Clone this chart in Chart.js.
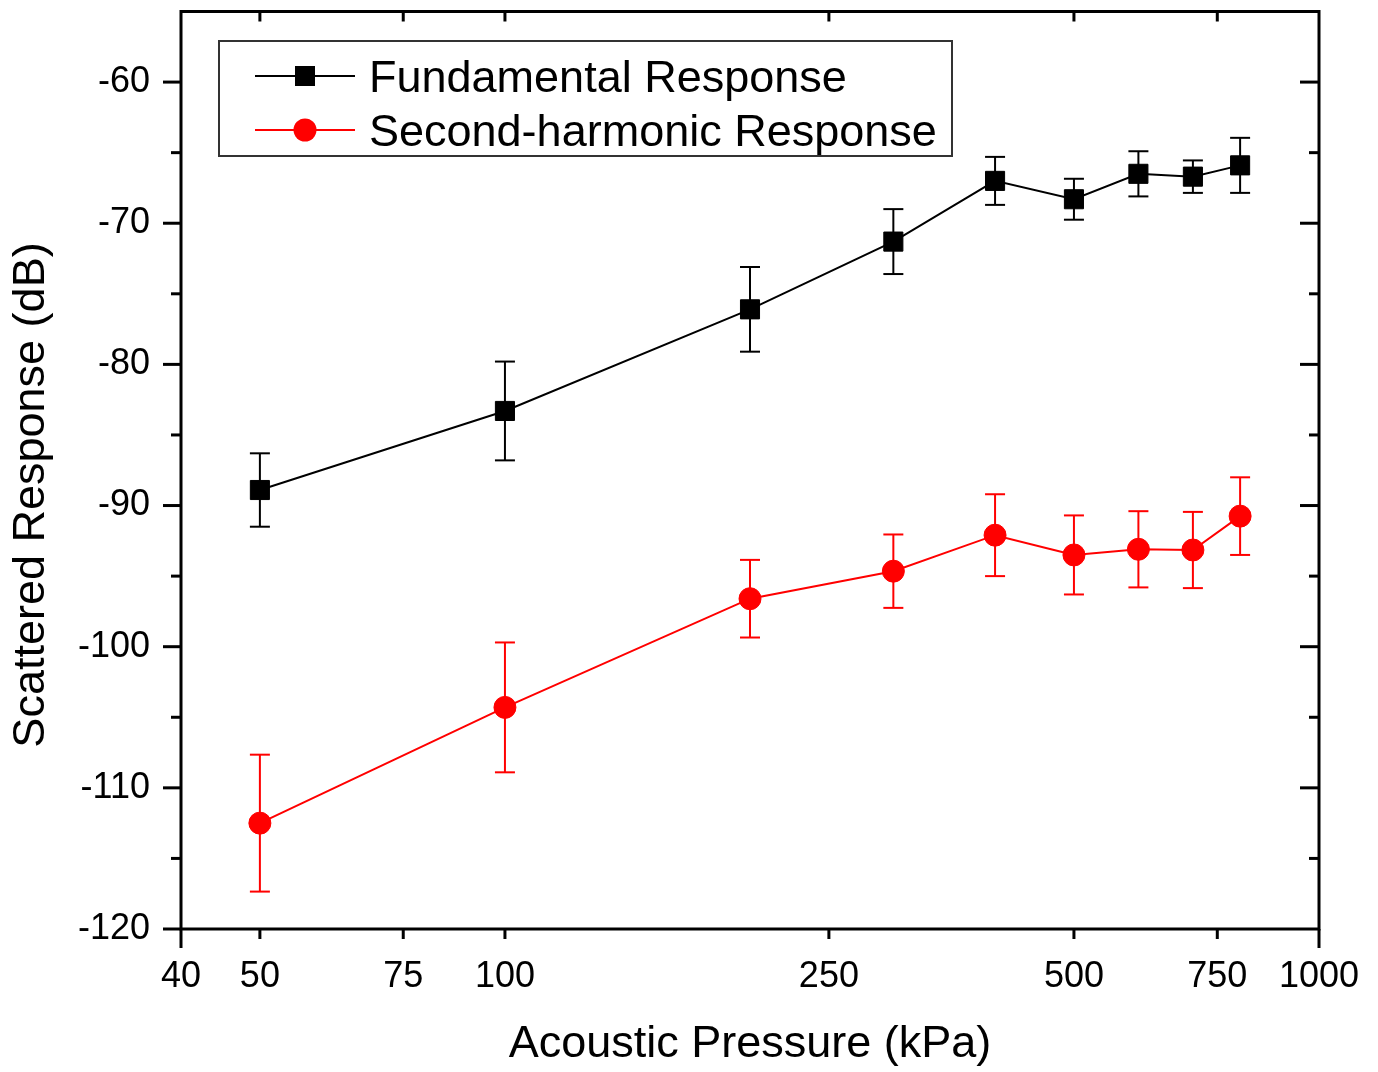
<!DOCTYPE html>
<html>
<head>
<meta charset="utf-8">
<script src="https://cdn.jsdelivr.net/npm/chart.js@4/dist/chart.umd.min.js"></script>
<style>
  html, body { margin: 0; padding: 0; background: #fff; overflow: hidden; }
  /* Chart.js не даёт поднять верх области выше ~14.5px, поэтому сдвигаем холст на 3px вверх */
  #wrap { width: 1378px; height: 1075px; position: relative; top: -3px; }
</style>
</head>
<body>
<div id="wrap"><canvas id="myChart"></canvas></div>
<script>
// данные
const pressure = [50, 100, 200, 300, 400, 500, 600, 700, 800];
const fundamental = [-88.9, -83.3, -76.1, -71.3, -67.0, -68.3, -66.5, -66.7, -65.9];
const fundamentalErr = [2.6, 3.5, 3.0, 2.3, 1.7, 1.45, 1.6, 1.15, 1.95];
const secondHarm = [-112.5, -104.3, -96.6, -94.65, -92.1, -93.5, -93.1, -93.15, -90.75];
const secondHarmErr = [4.85, 4.6, 2.75, 2.6, 2.9, 2.8, 2.7, 2.7, 2.75];

const xTicks = [40, 50, 75, 100, 250, 500, 750, 1000];
const xMajor = [40, 1000];
const yTicks = [-120, -110, -100, -90, -80, -70, -60];
const yMinor = [-115, -105, -95, -85, -75, -65];

const FONT = '"Liberation Sans", Arial, sans-serif';

const seriesInfo = [
    { label: 'Fundamental Response', values: fundamental, err: fundamentalErr, color: '#000000', style: 'rect' },
    { label: 'Second-harmonic Response', values: secondHarm, err: secondHarmErr, color: '#ff0000', style: 'circle' }
];

// линия отметки
function seg(ctx, x1, y1, x2, y2) {
    ctx.beginPath();
    ctx.moveTo(x1, y1);
    ctx.lineTo(x2, y2);
    ctx.stroke();
}

// убираем лишние отступы под подписи, чтобы область графика была на месте
function noPad(scale) {
    scale.paddingTop = 0;
    scale.paddingBottom = 0;
    scale.paddingLeft = 0;
    scale.paddingRight = 0;
}

const decor = {
    id: 'decor',
    // усы погрешностей рисуем под маркерами
    beforeDatasetsDraw(chart) {
        const ctx = chart.ctx;
        const xs = chart.scales.x, ys = chart.scales.y;
        ctx.save();
        ctx.lineWidth = 2;
        seriesInfo.forEach(s => {
            ctx.strokeStyle = s.color;
            for (let i = 0; i < pressure.length; i++) {
                const px = xs.getPixelForValue(pressure[i]);
                const top = ys.getPixelForValue(s.values[i] + s.err[i]);
                const bot = ys.getPixelForValue(s.values[i] - s.err[i]);
                seg(ctx, px, top, px, bot);
                seg(ctx, px - 10, top, px + 10, top);
                seg(ctx, px - 10, bot, px + 10, bot);
            }
        });
        ctx.restore();
    },
    afterDraw(chart) {
        const ctx = chart.ctx;
        const a = chart.chartArea;
        const xs = chart.scales.x, ys = chart.scales.y;
        ctx.save();
        ctx.strokeStyle = '#000';
        ctx.lineWidth = 3;
        ctx.lineCap = 'butt';
        // рамка
        ctx.strokeRect(a.left, a.top, a.right - a.left, a.bottom - a.top);

        // отметки по X: снаружи снизу, внутри сверху
        xTicks.forEach(v => {
            const px = xs.getPixelForValue(v);
            const len = xMajor.includes(v) ? 19 : 10;
            seg(ctx, px, a.bottom, px, a.bottom + len);
            if (!xMajor.includes(v)) seg(ctx, px, a.top, px, a.top + 10);
        });
        // отметки по Y: снаружи слева, внутри справа
        yTicks.forEach(v => {
            const py = ys.getPixelForValue(v);
            seg(ctx, a.left - 18, py, a.left, py);
            if (v !== -120) seg(ctx, a.right - 19, py, a.right, py);
        });
        yMinor.forEach(v => {
            const py = ys.getPixelForValue(v);
            seg(ctx, a.left - 10, py, a.left, py);
            seg(ctx, a.right - 10, py, a.right, py);
        });

        // легенда
        const lx = a.left + 38, ly = Math.round(a.top + 29);
        ctx.lineWidth = 2;
        ctx.strokeStyle = '#333';
        ctx.strokeRect(lx, ly, 733, 115);
        ctx.font = '45px ' + FONT;
        ctx.textBaseline = 'alphabetic';
        ctx.textAlign = 'left';
        seriesInfo.forEach((s, k) => {
            const cy = ly + 35 + k * 54;
            ctx.strokeStyle = s.color;
            ctx.fillStyle = s.color;
            ctx.lineWidth = 2;
            seg(ctx, lx + 36, cy, lx + 136, cy);
            if (s.style === 'rect') {
                ctx.fillRect(lx + 86 - 10, cy - 10, 20, 20);
            } else {
                ctx.beginPath();
                ctx.arc(lx + 86, cy, 11.5, 0, Math.PI * 2);
                ctx.fill();
            }
            ctx.fillStyle = '#000';
            ctx.fillText(s.label, lx + 150, cy + 16);
        });

        // подпись оси Y
        ctx.translate(32, 498);
        ctx.rotate(-Math.PI / 2);
        ctx.textAlign = 'center';
        ctx.textBaseline = 'middle';
        ctx.fillStyle = '#000';
        ctx.fillText('Scattered Response (dB)', 0, 0);
        ctx.restore();
    }
};

const datasets = seriesInfo.map(s => ({
    label: s.label,
    data: pressure.map((p, i) => ({ x: p, y: s.values[i] })),
    showLine: true,
    borderColor: s.color,
    backgroundColor: s.color,
    borderWidth: 2,
    tension: 0,
    pointStyle: s.style,
    pointRadius: s.style === 'rect' ? 13.5 : 11,
    pointBorderWidth: 1,
    pointBackgroundColor: s.color,
    pointBorderColor: s.color
}));

const ctx = document.getElementById('myChart').getContext('2d');
const myChart = new Chart(ctx, {
    type: 'scatter',
    data: { datasets: datasets },
    options: {
        responsive: true,
        maintainAspectRatio: false,
        animation: false,
        layout: { padding: { left: 0, top: 12, right: 59, bottom: 0 } },
        plugins: {
            legend: { display: false },
            tooltip: { enabled: false }
        },
        scales: {
            x: {
                type: 'logarithmic',
                min: 40,
                max: 1000,
                afterBuildTicks: scale => { scale.ticks = xTicks.map(v => ({ value: v })); },
                afterFit: scale => { scale.height = 143; noPad(scale); },
                grid: { display: false, drawTicks: false },
                border: { display: false },
                ticks: {
                    autoSkip: false,
                    maxRotation: 0,
                    padding: 26,
                    color: '#000',
                    font: { family: FONT, size: 36 },
                    callback: v => String(v)
                },
                title: {
                    display: true,
                    text: 'Acoustic Pressure (kPa)',
                    color: '#000',
                    font: { family: FONT, size: 45 },
                    padding: { top: 0, bottom: 0 }
                }
            },
            y: {
                min: -120,
                max: -55,
                afterBuildTicks: scale => { scale.ticks = yTicks.map(v => ({ value: v })); },
                afterFit: scale => { scale.width = 181; noPad(scale); },
                grid: { display: false, drawTicks: false },
                border: { display: false },
                ticks: {
                    padding: 31,
                    color: '#000',
                    font: { family: FONT, size: 36 }
                }
            }
        }
    },
    plugins: [decor]
});
</script>
</body>
</html>
